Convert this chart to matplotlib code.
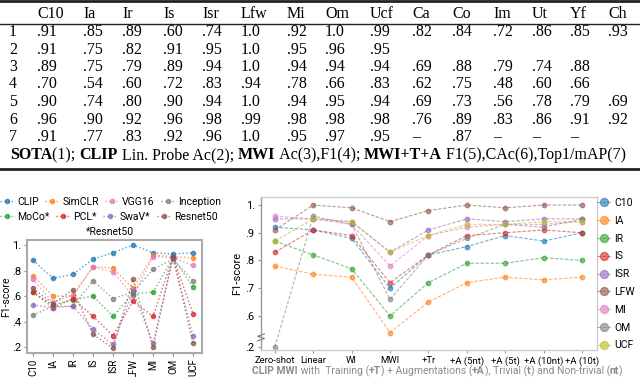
import matplotlib.pyplot as plt
from matplotlib.lines import Line2D
import numpy as np

W, H = 640, 377

# ---------------- table data ----------------
tbl_cols = ['C10', 'Ia', 'Ir', 'Is', 'Isr', 'Lfw', 'Mi', 'Om', 'Ucf',
            'Ca', 'Co', 'Im', 'Ut', 'Yf', 'Ch']
tbl_rows = ['1', '2', '3', '4', '5', '6', '7']
tbl_vals = [
    ['.91', '.85', '.89', '.60', '.74', '1.0', '.92', '1.0', '.99', '.82', '.84', '.72', '.86', '.85', '.93'],
    ['.91', '.75', '.82', '.91', '.95', '1.0', '.95', '.96', '.95', '', '', '', '', '', ''],
    ['.89', '.75', '.79', '.89', '.94', '1.0', '.94', '.94', '.94', '.69', '.88', '.79', '.74', '.88', ''],
    ['.70', '.54', '.60', '.72', '.83', '.94', '.78', '.66', '.83', '.62', '.75', '.48', '.60', '.66', ''],
    ['.90', '.74', '.80', '.90', '.94', '1.0', '.94', '.95', '.94', '.69', '.73', '.56', '.78', '.79', '.69'],
    ['.96', '.90', '.92', '.96', '.98', '.99', '.98', '.98', '.98', '.76', '.89', '.83', '.86', '.91', '.92'],
    ['.91', '.77', '.83', '.92', '.96', '1.0', '.95', '.97', '.95', '–', '.87', '–', '–', '–', ''],
]
caption = [('SOTA', 'bold'), ('(1); ', 'normal'), ('CLIP', 'bold'),
           (' Lin. Probe Ac(2); ', 'normal'), ('MWI', 'bold'),
           (' Ac(3),F1(4); ', 'normal'), ('MWI+T+A', 'bold'),
           (' F1(5),CAc(6),Top1/mAP(7)', 'normal')]

# ---------------- left chart data ----------------
datasets = ['C10', 'IA', 'IR', 'IS', 'ISR', 'LFW', 'MI', 'OM', 'UCF']
models = ['CLIP', 'SimCLR', 'VGG16', 'Inception', 'MoCo*', 'PCL*', 'SwaV*', 'Resnet50']
clip = [.88, .74, .77, .89, .94, 1.0, .94, .93, .94]
simclr = [.76, .60, .60, .83, .82, .66, .92, .91, .90]
vgg16 = [.73, .55, .61, .83, .79, .60, .91, .90, .84]
inception = [.45, .52, .52, .72, .58, .63, .81, .89, .72]
moco = [.63, .53, .57, .60, .44, .62, .63, .90, .67]
pcl = [.63, .51, .58, .44, .29, .56, .44, .91, .46]
swav = [.53, .51, .52, .34, .22, .64, .23, .90, .29]
resnet50 = [.66, .54, .65, .30, .19, .73, .20, .91, .23]
model_vals = [clip, simclr, vgg16, inception, moco, pcl, swav, resnet50]
model_colors = ['tab:blue', 'tab:orange', 'tab:pink', 'tab:gray',
                'tab:green', 'tab:red', 'tab:purple', 'tab:brown']

# ---------------- right chart data ----------------
methods = ['Zero-shot', 'Linear', 'WI', 'MWI', '+Tr', '+A (5nt)', '+A (5t)', '+A (10nt)', '+A (10t)']
series_names = ['C10', 'IA', 'IR', 'IS', 'ISR', 'LFW', 'MI', 'OM', 'UCF']
c10 = [.92, .91, .88, .70, .82, .85, .89, .87, .90]
ia = [.78, .75, .74, .54, .65, .72, .74, .73, .74]
ir = [.87, .82, .77, .60, .72, .79, .79, .81, .80]
is_ = [.83, .91, .89, .72, .82, .89, .90, .91, .90]
isr = [.95, .95, .94, .83, .91, .95, .94, .95, .95]
lfw = [.91, 1.0, .99, .94, .98, 1.0, .99, 1.0, 1.0]
mi = [.96, .95, .93, .78, .89, .92, .93, .93, .94]
om = [.20, .96, .93, .66, .82, .88, .93, .92, .95]
ucf = [.87, .95, .94, .83, .89, .93, .93, .94, .94]
series_vals = [c10, ia, ir, is_, isr, lfw, mi, om, ucf]
series_colors = ['tab:blue', 'tab:orange', 'tab:green', 'tab:red', 'tab:purple',
                 'tab:brown', 'tab:pink', 'tab:gray', 'tab:olive']
xlabel_parts = [('CLIP MWI', 'bold'), (' with  Training (', 'normal'), ('+T', 'bold'),
                (') + Augmentations (', 'normal'), ('+A', 'bold'), ('), Trivial (', 'normal'),
                ('t', 'bold'), (') and Non-trivial (', 'normal'), ('nt', 'bold'), (')', 'normal')]

SERIF = 'Liberation Serif'
SANS = 'Roboto'

fig = plt.figure(figsize=(6.4, 3.77), dpi=100)
renderer = fig.canvas.get_renderer()


def fx(px):
    return px / W


def fy(py):
    return 1 - py / H


def text_width(s, **kw):
    t = fig.text(0, 0, '|' + s + '|', **kw)
    w1 = t.get_window_extent(renderer).width
    t.set_text('||')
    w2 = t.get_window_extent(renderer).width
    t.remove()
    return w1 - w2


def rich_text(x, y, parts, **kw):
    cur = x
    for s, weight in parts:
        fig.text(fx(cur), fy(y), s, weight=weight, va='center', ha='left', **kw)
        cur += text_width(s, weight=weight, **kw)


# ---------------- table ----------------
col_x = [37, 83, 122, 163, 202, 241, 287, 325, 370, 412, 452, 493, 532, 570, 608]
row_y = [32, 49.5, 67, 84.5, 102, 119.5, 137]
tsize = 11.5
for c, x in zip(tbl_cols, col_x):
    fig.text(fx(x), fy(14), c, family=SERIF, fontsize=tsize, va='center')
for r, y, vals in zip(tbl_rows, row_y, tbl_vals):
    fig.text(fx(9), fy(y), r, family=SERIF, fontsize=tsize, va='center')
    for v, x in zip(vals, col_x):
        fig.text(fx(x), fy(y), v, family=SERIF, fontsize=tsize, va='center')
rich_text(10, 155, caption, family=SERIF, fontsize=tsize)
for y, lw in [(1, 2.0), (24, 1.0), (169, 2.0)]:
    fig.add_artist(Line2D([0, 1], [fy(y), fy(y)], color='#222222', lw=lw))

# ---------------- left chart ----------------
ax1 = fig.add_axes([fx(27), fy(353), fx(175), 113 / H])
xs = np.arange(len(datasets))
lines1 = []
for name, vals, col in zip(models, model_vals, model_colors):
    ln, = ax1.plot(xs, vals, ls=':', lw=1.0, color=col, alpha=0.75,
                   marker='o', ms=3, mec=col, mfc=col, label=name)
    lines1.append(ln)
ax1.set_xlim(-0.3, 8.45)
ax1.set_ylim(0.153, 1.04)
ax1.set_xticks(xs)
ax1.set_xticklabels(datasets, rotation=90, family=SANS, fontsize=7.0)
ax1.set_yticks([0.2, 0.4, 0.6, 0.8, 1.0])
ax1.set_yticklabels(['.2', '.4', '.6', '.8', '1.'], family=SANS, fontsize=8)
ax1.set_ylabel('F1-score', family=SANS, fontsize=7.5)
ax1.yaxis.set_label_coords(-0.09, 0.5)
ax1.tick_params(length=2.5, width=0.8, color='#888888', pad=1.5)
for sp in ax1.spines.values():
    sp.set_color('#aaaaaa')
    sp.set_linewidth(1.5)

leg_kw = dict(frameon=False, ncol=4, handlelength=1.4, handletextpad=0.25,
              columnspacing=0.6, borderpad=0, borderaxespad=0, prop={'family': SANS, 'size': 7.5})
fig.legend(handles=lines1[:4], loc='upper left', bbox_to_anchor=(fx(0), fy(197)), **leg_kw)
fig.legend(handles=lines1[4:], loc='upper left', bbox_to_anchor=(fx(0), fy(212)), **leg_kw)
fig.text(fx(110), fy(232), '*Resnet50', family=SANS, fontsize=7.5, ha='center', va='center')

# ---------------- right chart ----------------
ax2 = fig.add_axes([fx(261), fy(350), fx(336), 153 / H])
xm = np.arange(len(methods))


def squash(v):
    # broken y axis: values below .5 are drawn just under the break
    v = np.asarray(v, dtype=float)
    return np.where(v < 0.5, v + 0.288, v)


lines2 = []
for name, vals, col in zip(series_names, series_vals, series_colors):
    ln, = ax2.plot(xm, squash(vals), ls=(0, (3, 1.5)), lw=0.8, color=col, alpha=0.6,
                   marker='o', ms=3.2, mec=col, mfc=col, label=name)
    lines2.append(ln)
ax2.set_xlim(-0.36, 8.39)
ax2.set_ylim(0.477, 1.029)
ax2.set_xticks(xm)
ax2.set_xticklabels(methods, family=SANS, fontsize=6.8)
yt = [0.2, 0.6, 0.7, 0.8, 0.9, 1.0]
ax2.set_yticks(squash(yt))
ax2.set_yticklabels(['.2', '.6', '.7', '.8', '.9', '1.'], family=SANS, fontsize=8)
ax2.set_ylabel('F1-score', family=SANS, fontsize=8)
ax2.yaxis.set_label_coords(-0.055, 0.5)
ax2.tick_params(length=2.5, width=0.8, color='#999999', pad=2)
for sp in ax2.spines.values():
    sp.set_color('#cccccc')
    sp.set_linewidth(1.0)
ax2.spines['left'].set_color('#999999')
# axis break mark
ax2.plot([-0.01, 0.01, -0.01, 0.01], [0.06, 0.075, 0.09, 0.105], transform=ax2.transAxes,
         color='#777777', lw=0.8, clip_on=False)

fig.legend(handles=lines2, loc='upper left', bbox_to_anchor=(fx(597), fy(198)),
           frameon=False, prop={'family': SANS, 'size': 7.5}, handlelength=1.4,
           handletextpad=0.25, labelspacing=0.75, borderpad=0, borderaxespad=0, markerscale=1.8)

rich_text(252, 371, xlabel_parts, family=SANS, fontsize=7.5, color='#8c8c8c')

fig.savefig('out.png', dpi=100)
